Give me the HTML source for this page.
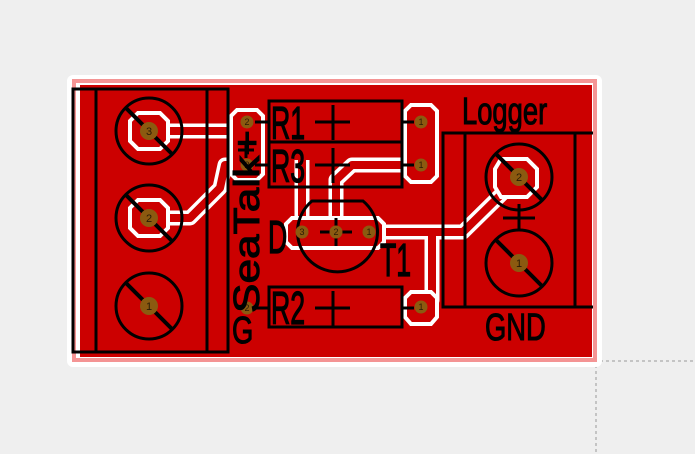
<!DOCTYPE html>
<html><head><style>
html,body{margin:0;padding:0;background:#efefef;}
svg{display:block;font-family:"Liberation Sans",sans-serif;}
</style></head><body>
<svg width="695" height="454" viewBox="0 0 695 454" xmlns="http://www.w3.org/2000/svg">
<rect width="695" height="454" fill="#efefef"/>
<line x1="596" y1="365" x2="596" y2="454" stroke="#999" stroke-dasharray="3,3"/>
<line x1="600" y1="361" x2="695" y2="361" stroke="#999" stroke-dasharray="3,3"/>
<rect x="67" y="75" width="535" height="292" rx="6" fill="#fff"/>
<rect x="74" y="81" width="521" height="279" fill="none" stroke="#f49494" stroke-width="4"/>
<rect x="80" y="85" width="512" height="272" fill="#cc0000"/>
<g fill="none" stroke-linejoin="round">
<g stroke="#fff" stroke-width="15">
<path d="M149 131 H247"/>
<path d="M149 218 H190 L220 188 L225 165 H247"/>
<path d="M369 232 H463 L519 177"/>
<path d="M432 232 V300 L421 307"/>
<path d="M336 232 V180 L352 165 H421"/>
<path d="M302 232 V160"/>
<path d="M421 122 V165"/>
</g>
<g stroke="#cc0000" stroke-width="8">
<path d="M149 131 H247"/>
<path d="M149 218 H190 L220 188 L225 165 H247"/>
<path d="M369 232 H463 L519 177"/>
<path d="M432 232 V300 L421 307"/>
<path d="M336 232 V180 L352 165 H421"/>
<path d="M302 232 V160"/>
<path d="M421 122 V165"/>
</g>
</g>
<g fill="#cc0000" stroke="#fff" stroke-width="4">
<polygon points="138,113 160,113 168,121 168,141 160,149 138,149 130,141 130,121"/>
<polygon points="138,200 160,200 168,208 168,228 160,236 138,236 130,228 130,208"/>
<polygon points="501,159 527,159 537,169 537,187 527,197 501,197 495,187 495,169"/>
<polygon points="237,110 257,110 263,116 263,174 257,180 237,180 231,174 231,116"/>
<polygon points="411,105 431,105 437,111 437,176 431,182 411,182 405,176 405,111"/>
<polygon points="411,292 431,292 437,298 437,317 431,324 411,324 405,317 405,298"/>
<polygon points="292,218 378,218 384,224 384,242 378,248 292,248 286,242 286,224"/>
</g>
<g fill="none" stroke="#000" stroke-width="3">
<rect x="73" y="89" width="155" height="263"/>
<line x1="96" y1="89" x2="96" y2="352"/>
<line x1="207" y1="89" x2="207" y2="352"/>
<circle cx="149" cy="131" r="33"/><line x1="126" y1="108" x2="172" y2="154" stroke-width="4"/>
<circle cx="149" cy="218" r="33"/><line x1="126" y1="195" x2="172" y2="241" stroke-width="4"/>
<circle cx="149" cy="306" r="33"/><line x1="126" y1="283" x2="172" y2="329" stroke-width="4"/>
<rect x="269" y="101" width="133" height="41"/>
<rect x="269" y="142" width="133" height="45"/>
<rect x="269" y="287" width="133" height="40"/>
<line x1="255" y1="122" x2="269" y2="122"/><line x1="402" y1="122" x2="414" y2="122"/>
<line x1="255" y1="165" x2="269" y2="165"/><line x1="402" y1="165" x2="414" y2="165"/>
<line x1="255" y1="308" x2="269" y2="308"/><line x1="402" y1="308" x2="414" y2="308"/>
<path d="M315 122 H350 M333 105 V140 M315 165 H350 M333 148 V183 M315 308 H350 M333 291 V326"/>
<path d="M238 150 H254 M246 142 V158"/>
<path d="M312 201 H363 A40 40 0 1 1 312 201 Z"/>
<path d="M320 232 H352 M336 218 V246"/>
<rect x="443" y="133" width="132" height="174"/>
<line x1="465" y1="133" x2="465" y2="307"/>
<line x1="575" y1="133" x2="593" y2="133"/>
<line x1="575" y1="307" x2="593" y2="307"/>
<circle cx="519" cy="177" r="33"/><line x1="496" y1="154" x2="542" y2="200" stroke-width="4"/>
<circle cx="519" cy="263" r="33"/><line x1="496" y1="240" x2="542" y2="286" stroke-width="4"/>
<line x1="519" y1="204" x2="519" y2="230"/><line x1="503" y1="218" x2="535" y2="218"/>
</g>
<g fill="#8b5a10">
<circle cx="149" cy="131" r="9"/><circle cx="149" cy="218" r="9"/><circle cx="149" cy="306" r="9"/>
<circle cx="519" cy="177" r="9"/><circle cx="519" cy="263" r="9"/>
<circle cx="247" cy="122" r="6.5"/><circle cx="247" cy="165" r="6.5"/><circle cx="247" cy="308" r="6.5"/>
<circle cx="421" cy="122" r="6.5"/><circle cx="421" cy="165" r="6.5"/><circle cx="421" cy="307" r="6.5"/>
<circle cx="302" cy="232" r="6.5"/><circle cx="336" cy="232" r="6.5"/><circle cx="369" cy="232" r="6.5"/>
</g>
<g fill="#000" font-size="11" text-anchor="middle" opacity="0.7">
<text x="149" y="135">3</text><text x="149" y="222">2</text><text x="149" y="310">1</text>
<text x="519" y="181">2</text><text x="519" y="267">1</text>
</g>
<g fill="#000" font-size="9" text-anchor="middle" opacity="0.7">
<text x="247" y="125">2</text><text x="247" y="168">2</text><text x="247" y="311">2</text>
<text x="421" y="125">1</text><text x="421" y="168">1</text><text x="421" y="310">1</text>
<text x="302" y="235">3</text><text x="336" y="235">2</text><text x="369" y="235">1</text>
</g>
<g fill="#000" stroke="#000" stroke-width="1.3" font-size="46">
<text transform="translate(271,139) scale(0.58,1)">R1</text>
<text transform="translate(271,182) scale(0.58,1)">R3</text>
<text transform="translate(271,324) scale(0.58,1)">R2</text>
<text transform="translate(268,253) scale(0.58,1)">D</text>
<text transform="translate(380,276) scale(0.58,1)">T1</text>
</g>
<g fill="#000" stroke="#000" stroke-width="1.1" font-size="38">
<text transform="translate(462,124) scale(0.72,1)">Logger</text>
<text transform="translate(485,340) scale(0.72,1)">GND</text>
<text transform="translate(232,343) scale(0.72,1)">G</text>
</g>
<text transform="translate(259,313) rotate(-90)" textLength="183" lengthAdjust="spacingAndGlyphs" font-size="36" fill="#000" stroke="#000" stroke-width="1">SeaTalk+</text>
</svg>
</body></html>
